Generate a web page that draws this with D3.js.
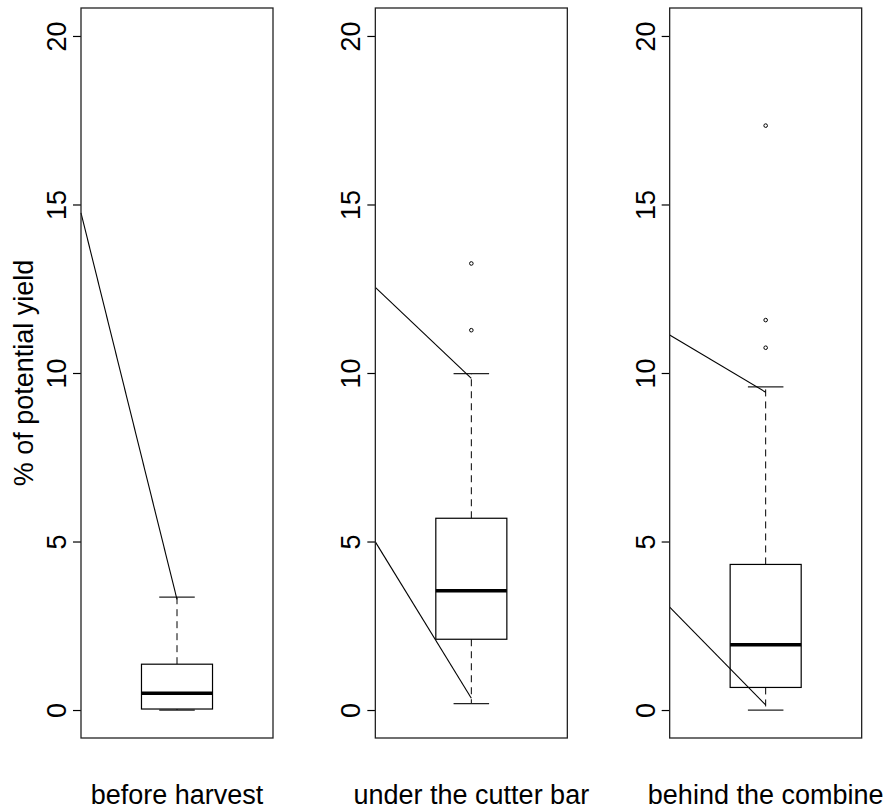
<!DOCTYPE html>
<html>
<head>
<meta charset="utf-8">
<script src="https://cdnjs.cloudflare.com/ajax/libs/d3/7.8.5/d3.min.js"></script>
<style>
  body { margin: 0; background: #fff; }
  text { font-family: "Liberation Sans", Arial, sans-serif; fill: #000; }
</style>
</head>
<body>
<div id="chart"></div>
<script>
let width = 883,
    height = 807;

// data
const groups = ["before harvest", "under the cutter bar", "behind the combine"];
const whiskerLo = [0.0, 0.19, 0.0];
const q1 = [0.03, 2.10, 0.67];
const medians = [0.50, 3.54, 1.94];
const q3 = [1.36, 5.69, 4.32];
const whiskerHi = [3.35, 9.98, 9.59];
const outliers = [[], [11.27, 13.25], [10.75, 11.57, 17.34]];
// the straight lines from the left edge of each panel to the whisker ends
const lineFrom = [[14.75], [12.54, 4.99], [11.13, 3.05]];
const lineTo = [[3.28], [9.84, 0.35], [9.43, 0.15]];
const yTicks = [0, 5, 10, 15, 20];
const yLabel = "% of potential yield";

const svg = d3.select("#chart")
  .append("svg")
  .attr("width", width)
  .attr("height", height);

const plotTop = 8,
      plotBottom = 738,
      padLeft = 81,
      padRight = 273;

const col = d3.scaleBand()
  .domain(groups)
  .range([0, width]);

const y = d3.scaleLinear()
  .domain([-0.83, 20.83])
  .range([plotBottom, plotTop]);

groups.forEach(function (g, i) {
  let left = col(g) + padLeft,
      right = col(g) + padRight;

  let x = d3.scaleLinear()
    .domain([0, 1])
    .range([left, right]);

  let panel = svg.append("g").attr("class", "panel");

  // y axis
  let axis = panel.append("g")
    .attr("transform", "translate(" + left + ",0)")
    .call(d3.axisLeft(y).tickValues(yTicks).tickSize(8).tickPadding(0));
  axis.select(".domain").remove();
  axis.selectAll(".tick line").attr("stroke", "#000").attr("stroke-width", 1.2);
  axis.selectAll(".tick text")
    .attr("x", 0)
    .attr("dy", null)
    .attr("transform", "translate(-15,0) rotate(-90)")
    .attr("text-anchor", "middle")
    .attr("font-size", 27)
    .attr("fill", "#000")
    .style("font-family", "'Liberation Sans', Arial, sans-serif");

  let cx = x(0.5),
      boxHalf = (x(1) - x(0)) * 0.185,
      capHalf = boxHalf / 2;

  // whiskers
  panel.append("line")
    .attr("x1", cx).attr("x2", cx)
    .attr("y1", y(q3[i])).attr("y2", y(whiskerHi[i]))
    .attr("stroke", "#000").attr("stroke-dasharray", "7,5");
  panel.append("line")
    .attr("x1", cx).attr("x2", cx)
    .attr("y1", y(q1[i])).attr("y2", y(whiskerLo[i]))
    .attr("stroke", "#000").attr("stroke-dasharray", "7,5");
  [whiskerLo[i], whiskerHi[i]].forEach(function (v) {
    panel.append("line")
      .attr("x1", cx - capHalf).attr("x2", cx + capHalf)
      .attr("y1", y(v)).attr("y2", y(v))
      .attr("stroke", "#222").attr("stroke-width", 1.2);
  });

  // box
  panel.append("rect")
    .attr("x", cx - boxHalf)
    .attr("y", y(q3[i]))
    .attr("width", boxHalf * 2)
    .attr("height", y(q1[i]) - y(q3[i]))
    .attr("fill", "#fff")
    .attr("stroke", "#000")
    .attr("stroke-width", 1.2);
  panel.append("line")
    .attr("x1", cx - boxHalf).attr("x2", cx + boxHalf)
    .attr("y1", y(medians[i])).attr("y2", y(medians[i]))
    .attr("stroke", "#000").attr("stroke-width", 3.5);

  // outliers
  panel.selectAll(".outlier")
    .data(outliers[i])
    .enter().append("circle")
    .attr("class", "outlier")
    .attr("cx", cx)
    .attr("cy", function (d) { return y(d); })
    .attr("r", 1.8)
    .attr("fill", "none")
    .attr("stroke", "#000")
    .attr("stroke-width", 1);

  // lines from the frame edge
  panel.selectAll(".link")
    .data(d3.zip(lineFrom[i], lineTo[i]))
    .enter().append("line")
    .attr("class", "link")
    .attr("x1", left)
    .attr("y1", function (d) { return y(d[0]); })
    .attr("x2", cx)
    .attr("y2", function (d) { return y(d[1]); })
    .attr("stroke", "#000")
    .attr("stroke-width", 1.1);

  // frame
  panel.append("rect")
    .attr("x", left)
    .attr("y", plotTop)
    .attr("width", right - left)
    .attr("height", plotBottom - plotTop)
    .attr("fill", "none")
    .attr("stroke", "#222")
    .attr("stroke-width", 1.3);

  // group label
  panel.append("text")
    .attr("x", cx)
    .attr("y", 804)
    .attr("text-anchor", "middle")
    .attr("font-size", 27)
    .text(g);
});

svg.append("text")
  .attr("transform", "translate(33," + ((plotTop + plotBottom) / 2) + ") rotate(-90)")
  .attr("text-anchor", "middle")
  .attr("font-size", 27)
  .text(yLabel);
</script>
</body>
</html>
